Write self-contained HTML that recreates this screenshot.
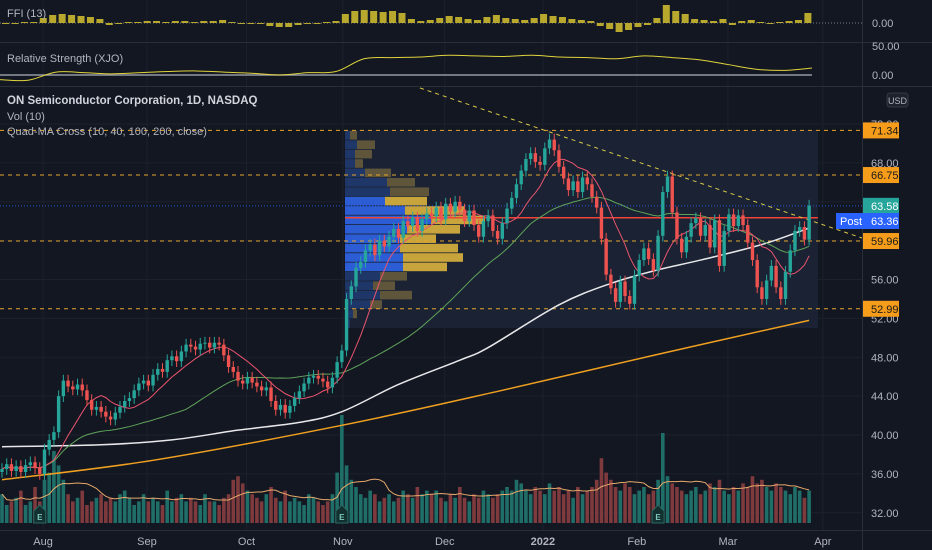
<!DOCTYPE html>
<html><head><meta charset="utf-8">
<style>
html,body{margin:0;padding:0;background:#131722;}
svg{display:block;font-family:"Liberation Sans",sans-serif;}
</style></head>
<body>
<svg id="chart" width="932" height="550" viewBox="0 0 932 550" xmlns="http://www.w3.org/2000/svg">
<rect width="932" height="550" fill="#131722"/>
<g id="grid"></g>
<g id="ffi"></g>
<g id="rs"></g>
<g id="main"></g>
<g id="axes"></g>
</svg>
<script>
const closes=[36.5,37.0,36.3,36.8,36.2,36.9,37.2,36.6,36.0,
38.5,39.5,40.3,44.0,
45.6,45.0,44.7,45.2,44.6,43.6,42.6,42.9,42.4,
41.9,41.6,42.3,42.9,43.5,43.8,44.6,45.3,45.6,45.1,
46.2,46.8,46.5,47.7,48.1,47.6,48.6,49.3,49.1,48.8,49.4,49.5,49.0,
49.5,49.3,48.2,47.0,46.5,45.6,45.3,45.9,
45.4,45.0,44.6,44.9,43.5,42.6,43.1,42.3,
43.0,43.8,44.5,45.3,45.9,46.1,45.8,45.5,44.9,45.9,
47.5,48.7,54.0,55.3,
57.2,57.8,59.0,59.6,58.5,60.0,59.4,60.4,61.2,60.3,62.0,61.5,62.4,61.0,62.2,62.8,
62.5,63.4,62.2,63.8,63.0,64.0,63.2,62.0,63.1,61.6,60.4,62.0,62.6,61.0,60.2,61.8,
63.3,64.4,65.8,67.2,68.4,69.0,68.1,67.8,69.5,70.4,69.3,67.6,
66.4,65.2,66.1,65.0,66.5,65.8,64.5,63.4,60.2,56.5,
55.1,53.7,55.8,54.3,53.5,56.4,58.0,59.2,58.1,56.9,
60.5,65.0,66.6,62.9,60.2,58.8,60.4,61.8,62.3,60.5,
61.6,59.3,62.1,57.4,61.0,62.7,61.5,62.6,61.6,59.8,
58.0,55.2,54.0,55.9,57.4,55.2,54.0,56.8,59.0,61.0,61.4,60.1,63.6];
const volumes=[8,5,6,7,9,5,6,10,6,
12,14,20,16,
12,8,6,7,9,5,6,7,8,
6,7,6,8,9,7,5,6,8,6,
7,6,5,9,6,7,8,6,7,6,5,8,6,
6,5,7,8,12,13,11,9,
8,7,6,8,10,7,6,9,
6,7,6,5,8,7,6,5,6,8,
14,30,16,12,
10,8,7,9,8,6,7,8,6,7,9,8,7,10,8,9,
8,9,7,6,8,7,10,7,6,8,7,9,8,7,8,9,
10,9,12,11,9,8,10,9,8,11,9,10,
8,9,7,10,8,9,10,12,18,14,
12,10,9,11,10,8,9,10,8,9,
12,25,13,11,10,9,8,9,10,8,
9,11,10,12,9,8,10,9,11,10,
13,11,12,10,9,11,10,9,8,10,9,7,9];
const ffiValues=[0,0,1,1,5,8,9,8,7,6,4,-2,-1,1,1,2,2,1,2,2,1,2,2,3,1,0,-1,-1,-3,-4,-4,-2,0,0,1,2,9,12,13,12,11,12,10,4,2,3,5,7,6,4,3,6,8,5,4,3,5,9,7,6,4,3,2,-3,-6,-9,-7,-4,-2,5,18,12,9,4,3,2,4,-2,2,3,1,-1,1,2,3,10];
const rsValues=[-8,-9,5,4,2,4,6,7,5,3,0,4,6,28,30,31,34,33,32,34,31,30,28,33,30,26,18,10,8,12];
const ma100Bars=[0,21,36,50,63,72,84,97,103,118,129,139,148,161,171];
const ma100Values=[38.8,39.0,39.5,40.5,41.3,42.4,45.2,47.7,49.0,53.4,55.6,57.0,58.0,59.6,61.3];
const ma200Bars=[0,32,72,106,138,171];
const ma200Values=[35.4,37.4,41.0,44.6,48.2,51.8];
const hLevels=[71.34,66.75,59.96,52.99];
const priceTicks=[72,68,64,60,56,52,48,44,40,36,32];
const monthLabels=["Aug","Sep","Oct","Nov","Dec","2022","Feb","Mar","Apr"];
const monthBars=[8.7,30.7,51.8,72.2,93.8,114.6,134.5,153.8,173.9];
const vpBlue=[5,12,10,10,20,42,45,40,60,86,62,55,55,58,58,35,28,35,25,8,5];
const vpGold=[7,18,17,8,26,28,39,42,60,54,53,36,58,60,44,27,22,32,12,4,0];
const earningsBars=[8,72,139];

const NS="http://www.w3.org/2000/svg";
function mk(parent,tag,attrs,name,inter){const e=document.createElementNS(NS,tag);for(const k in attrs)e.setAttribute(k,attrs[k]);


document.getElementById(parent).appendChild(e);return e;}
const X=i=>2+i*4.72;
const Y=p=>124+(72-p)*9.72;
const VY=v=>523-v*3.6;
const FY=v=>23-v*1.0;
const RY=v=>75-v*0.58;
const PR=862;

function smoothPath(pts){let d='M'+pts[0][0]+' '+pts[0][1];
for(let i=0;i<pts.length-1;i++){const p0=pts[Math.max(0,i-1)],p1=pts[i],p2=pts[i+1],p3=pts[Math.min(pts.length-1,i+2)];
const c1x=p1[0]+(p2[0]-p0[0])/6,c1y=p1[1]+(p2[1]-p0[1])/6,c2x=p2[0]-(p3[0]-p1[0])/6,c2y=p2[1]-(p3[1]-p1[1])/6;
d+=` C${c1x} ${c1y} ${c2x} ${c2y} ${p2[0]} ${p2[1]}`;}return d;}

// grid
monthBars.forEach(b=>{mk('grid','line',{x1:X(b),x2:X(b),y1:0,y2:530,stroke:'#1d212c','stroke-width':1},'grid-vline');});
priceTicks.forEach(p=>{mk('grid','line',{x1:0,x2:PR,y1:Y(p),y2:Y(p),stroke:'#1d212c','stroke-width':1},'grid-hline');});
mk('grid','line',{x1:0,x2:932,y1:42.5,y2:42.5,stroke:'#2a2e39'},'pane-separator');
mk('grid','line',{x1:0,x2:932,y1:86.5,y2:86.5,stroke:'#2a2e39'},'pane-separator');
mk('grid','line',{x1:PR+.5,x2:PR+.5,y1:0,y2:550,stroke:'#2a2e39'},'price-axis-border');
mk('grid','line',{x1:0,x2:932,y1:530.5,y2:530.5,stroke:'#2a2e39'},'time-axis-border');

// FFI
mk('ffi','line',{x1:0,x2:PR,y1:23,y2:23,stroke:'#787b86','stroke-dasharray':'1 2'},'ffi-zero-line');
ffiValues.forEach((v,k)=>{const x=2+k*9.44;const y=FY(v);
mk('ffi','rect',{x:x,y:Math.min(y,23),width:7,height:Math.max(1,Math.abs(23-y)),fill:'#b8a82e'},'ffi-bar');});
const t1=mk('ffi','text',{x:7,y:17,fill:'#b2b5be','font-size':11},'ffi-title');t1.textContent='FFI (13)';

// RS
mk('rs','line',{x1:0,x2:812,y1:75,y2:75,stroke:'#9598a1','stroke-width':1.5},'rs-baseline');
mk('rs','path',{d:smoothPath(rsValues.map((v,k)=>[k*28,RY(v)])),fill:'none',stroke:'#e0d43c','stroke-width':1},'rs-line');
const t2=mk('rs','text',{x:7,y:62,fill:'#b2b5be','font-size':11},'rs-title');t2.textContent='Relative Strength (XJO)';

// main: value area background
mk('main','rect',{x:345,y:130,width:473,height:198,fill:'#1a2233'},'volume-profile-range');
vpBlue.forEach((w,r)=>{const y=131+r*9.4;const bright=(r>=7&&r<=14);
mk('main','rect',{x:345,y:y,width:w,height:8.6,fill:bright?'#2c5dd4':'#1e3668'},'vp-up-volume');
mk('main','rect',{x:345+w,y:y,width:vpGold[r],height:8.6,fill:bright?'#c8a53c':'#5e553b'},'vp-down-volume');});

hLevels.forEach(p=>{mk('main','line',{x1:0,x2:PR,y1:Y(p),y2:Y(p),stroke:'#e8a52a','stroke-dasharray':'4 4'},'support-resistance-line');});
mk('main','line',{x1:0,x2:PR,y1:Y(63.58),y2:Y(63.58),stroke:'#2962ff','stroke-dasharray':'1 2','opacity':0.8},'last-price-line');
mk('main','line',{x1:345,x2:818,y1:Y(62.35),y2:Y(62.35),stroke:'#f04438','stroke-width':1.5},'poc-line');
mk('main','line',{x1:420,x2:PR,y1:88,y2:238,stroke:'#d9c94a','stroke-dasharray':'4 4'},'trend-line');

volumes.forEach((v,i)=>{const up=i===0||closes[i]>=closes[i-1];
mk('main','rect',{x:X(i)-1.8,y:VY(v),width:3.6,height:523-VY(v),fill:up?'#1f6e68':'#7e3a3d'},'volume-bar');});
const vma=volumes.map((v,i)=>{const s=volumes.slice(Math.max(0,i-9),i+1);return s.reduce((a,b)=>a+b,0)/s.length;});
mk('main','polyline',{points:vma.map((v,i)=>X(i)+','+VY(v)).join(' '),fill:'none',stroke:'#e6a86a','stroke-width':1},'volume-ma-line');
earningsBars.forEach(b=>{const x=X(b);
mk('main','path',{d:`M${x-6} ${511} L${x} ${505} L${x+6} ${511} L${x+6} ${523} L${x-6} ${523} Z`,fill:'#12302f',stroke:'#2a6a63'},'earnings-marker');
const t=mk('main','text',{x:x,y:520,fill:'#7fc7bd','font-size':8,'text-anchor':'middle','font-weight':'bold'},'earnings-label');t.textContent='E';});

function sma(n){return closes.map((c,i)=>{const s=closes.slice(Math.max(0,i-n+1),i+1);return s.reduce((a,b)=>a+b,0)/s.length;});}
mk('main','path',{d:smoothPath(ma200Bars.map((b,k)=>[X(b),Y(ma200Values[k])])),fill:'none',stroke:'#f0a020','stroke-width':1.5},'ma-200-line');
mk('main','path',{d:smoothPath(ma100Bars.map((b,k)=>[X(b),Y(ma100Values[k])])),fill:'none',stroke:'#e8e8ea','stroke-width':1.5},'ma-100-line');
const m40=sma(40),m10=sma(10);
mk('main','polyline',{points:m40.map((v,i)=>X(i)+','+Y(v)).join(' '),fill:'none',stroke:'#5fa35a','stroke-width':1},'ma-40-line');
mk('main','polyline',{points:m10.map((v,i)=>X(i)+','+Y(v)).join(' '),fill:'none',stroke:'#e9546e','stroke-width':1},'ma-10-line');

closes.forEach((c,i)=>{const o=i===0?c-0.3:closes[i-1];const up=c>=o;const col=up?'#26a69a':'#ef5350';
const hi=Math.max(o,c)+0.6,lo=Math.min(o,c)-0.6;const x=X(i);
mk('main','line',{x1:x,x2:x,y1:Y(hi),y2:Y(lo),stroke:col,'stroke-width':1},'candle-wick');
mk('main','rect',{x:x-1.7,y:Y(Math.max(o,c)),width:3.4,height:Math.max(1,Math.abs(Y(o)-Y(c))),fill:col},'candle-body');});

const tt=mk('main','text',{x:7,y:104,fill:'#d1d4dc','font-size':11.5,'font-weight':'bold'},'chart-title');tt.textContent='ON Semiconductor Corporation, 1D, NASDAQ';
const tv=mk('main','text',{x:7,y:120,fill:'#b2b5be','font-size':11},'volume-legend');tv.textContent='Vol (10)';
const tq=mk('main','text',{x:7,y:135,fill:'#b2b5be','font-size':11},'ma-legend');tq.textContent='Quad-MA Cross (10, 40, 100, 200, close)';

let a=mk('axes','text',{x:872,y:27,fill:'#b2b5be','font-size':11},'ffi-axis-label');a.textContent='0.00';
a=mk('axes','text',{x:872,y:50,fill:'#b2b5be','font-size':11},'rs-axis-label');a.textContent='50.00';
a=mk('axes','text',{x:872,y:79,fill:'#b2b5be','font-size':11},'rs-axis-label');a.textContent='0.00';
mk('axes','rect',{x:887,y:93,width:21,height:14,rx:3,fill:'#1e222d',stroke:'#363a45'},'currency-button');
a=mk('axes','text',{x:897.5,y:104,fill:'#b2b5be','font-size':9,'text-anchor':'middle'},'currency-label');a.textContent='USD';
priceTicks.forEach(p=>{const t=mk('axes','text',{x:871,y:Y(p)+4,fill:'#b2b5be','font-size':11},'price-tick-label');t.textContent=p.toFixed(2);});
hLevels.forEach(p=>{const y=Y(p);mk('axes','rect',{x:863,y:y-8,width:36,height:16,fill:'#f59c1a'},'level-price-box');
const t=mk('axes','text',{x:871,y:y+4,fill:'#1a1a1a','font-size':11},'level-price-label');t.textContent=p.toFixed(2);});
mk('axes','rect',{x:863,y:Y(63.58)-8,width:36,height:16,fill:'#26a69a'},'last-price-box');
a=mk('axes','text',{x:871,y:Y(63.58)+4,fill:'#ffffff','font-size':11},'last-price-label');a.textContent='63.58';
mk('axes','rect',{x:836,y:213,width:63,height:16,fill:'#2962ff'},'post-market-box');
a=mk('axes','text',{x:840,y:225,fill:'#ffffff','font-size':11},'post-label');a.textContent='Post';
a=mk('axes','text',{x:871,y:225,fill:'#ffffff','font-size':11},'post-price-label');a.textContent='63.36';
monthLabels.forEach((m,k)=>{const t=mk('axes','text',{x:X(monthBars[k]),y:545,fill:'#b2b5be','font-size':11,'text-anchor':'middle','font-weight':m==='2022'?'bold':'normal'},'time-axis-label');t.textContent=m;});
</script>
</body></html>
